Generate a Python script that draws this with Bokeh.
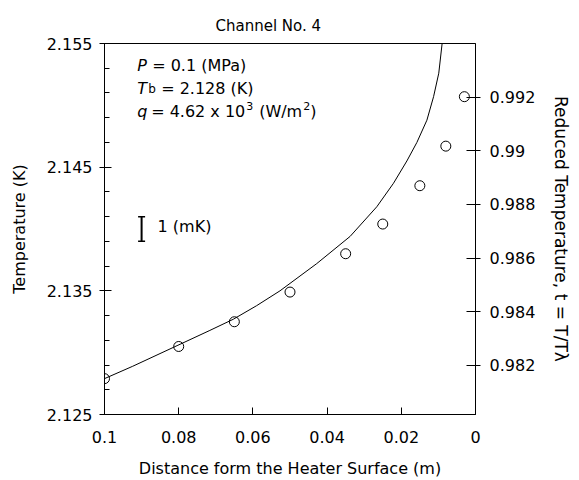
from bokeh.plotting import figure
from bokeh.models import Range1d, LinearAxis, FixedTicker, CustomJSTickFormatter, Label
from bokeh.embed import file_html
from bokeh.resources import INLINE

# ---- data ----
dist_pts = [0.1, 0.08, 0.065, 0.05, 0.035, 0.025, 0.015, 0.008, 0.003]
temp_pts = [2.1279, 2.1305, 2.1325, 2.1349, 2.1380, 2.1404, 2.1435, 2.1467, 2.1507]

curve_dist = [0.1, 0.0924, 0.0802, 0.0716, 0.0653, 0.0590, 0.0527, 0.0428, 0.0338,
              0.0266, 0.0221, 0.0185, 0.0158, 0.0131, 0.0113, 0.0099, 0.0090, 0.0088]
curve_temp = [2.1279, 2.1289, 2.1306, 2.1318, 2.1327, 2.1338, 2.1350, 2.1372, 2.1394,
              2.1418, 2.1437, 2.1455, 2.1470, 2.1488, 2.1507, 2.1526, 2.1550, 2.1557]

T_lambda = 2.168

x_ticks = [0.1, 0.08, 0.06, 0.04, 0.02, 0.0]
x_labels = ["0.1", "0.08", "0.06", "0.04", "0.02", "0"]
y_ticks = [2.125, 2.135, 2.145, 2.155]
y_labels = ["2.125", "2.135", "2.145", "2.155"]
y_minor = [2.127, 2.129, 2.131, 2.133, 2.137, 2.139, 2.141, 2.143,
           2.147, 2.149, 2.151, 2.153]
t_ticks = [0.982, 0.984, 0.986, 0.988, 0.99, 0.992]
t_labels = ["0.982", "0.984", "0.986", "0.988", "0.99", "0.992"]

bar_x = [0.09]
bar_lo = [2.139]
bar_hi = [2.141]
bar_text = "1 (mK)"

title_text = "Channel No. 4"
xlabel = "Distance form the Heater Surface (m)"
ylabel = "Temperature (K)"
tlabel = "Reduced Temperature, t = T/T\u03bb"

FONT = "DejaVu Sans"

code = """
let best = 0; let d = Infinity;
for (let i = 0; i < tks.length; i++) {
  const e = Math.abs(tks[i] - tick);
  if (e < d) { d = e; best = i; }
}
return lbls[best];
"""

def fmt(tks, lbls):
    return CustomJSTickFormatter(args=dict(tks=tks, lbls=lbls), code=code)

p = figure(width=575, height=480,
           x_range=Range1d(0.1, 0.0), y_range=Range1d(2.125, 2.155),
           output_backend="svg", toolbar_location=None,
           min_border_left=104, min_border_right=100,
           min_border_top=43, min_border_bottom=66,
           background_fill_color="white", border_fill_color="white")
p.extra_y_ranges = {"t": Range1d(2.125 / T_lambda, 2.155 / T_lambda)}

p.grid.visible = False
p.outline_line_color = "black"
p.outline_line_width = 1

p.title.text = title_text
p.title.align = "left"
p.title.offset = 111
p.title.text_font = FONT
p.title.text_font_size = "15px"
p.title.text_font_style = "normal"
p.title.text_color = "black"
p.title.standoff = 18

# bottom axis
xa = p.xaxis[0]
xa.ticker = FixedTicker(ticks=x_ticks)
xa.formatter = fmt(x_ticks, x_labels)
xa.axis_label = xlabel
xa.major_tick_in = 7
xa.major_tick_out = 0
xa.minor_tick_line_color = None
xa.major_label_standoff = 16

# left axis
ya = p.yaxis[0]
ya.ticker = FixedTicker(ticks=y_ticks, minor_ticks=y_minor)
ya.formatter = fmt(y_ticks, y_labels)
ya.axis_label = ylabel
ya.major_tick_in = 7
ya.major_tick_out = 5
ya.minor_tick_in = 5
ya.minor_tick_out = 0
ya.major_label_standoff = 7

# right axis
ra = LinearAxis(y_range_name="t")
ra.ticker = FixedTicker(ticks=t_ticks)
ra.formatter = fmt(t_ticks, t_labels)
ra.axis_label = tlabel
ra.major_tick_in = 9
ra.major_tick_out = 5
ra.minor_tick_line_color = None
ra.major_label_standoff = 9
p.add_layout(ra, "right")

for ax in [xa, ya, ra]:
    ax.axis_line_color = "black"
    ax.major_tick_line_color = "black"
    ax.major_label_text_font = FONT
    ax.major_label_text_font_size = "16px"
    ax.major_label_text_color = "black"
    ax.axis_label_text_font = FONT
    ax.axis_label_text_font_size = "16px"
    ax.axis_label_text_font_style = "normal"
    ax.axis_label_text_color = "black"
ya.minor_tick_line_color = "black"
ra.axis_label_text_font_size = "17px"
xa.axis_label_standoff = 13
ya.axis_label_standoff = 15
ra.axis_label_standoff = 13

# theory curve and measured points
p.line(curve_dist, curve_temp, line_color="black", line_width=1)
p.scatter(dist_pts, temp_pts, marker="circle", size=10, fill_color=None,
          line_color="black", line_width=1)

# 1 mK scale bar
p.segment(x0=bar_x, y0=bar_lo, x1=bar_x, y1=bar_hi, line_color="black", line_width=2)
p.scatter(bar_x * 2, bar_lo + bar_hi, marker="dash", size=7, line_color="black", line_width=1.5)
p.add_layout(Label(x=bar_x[0], y=(bar_lo[0] + bar_hi[0]) / 2, x_offset=16, y_offset=3,
                   text=bar_text, text_font=FONT, text_font_size="16px",
                   text_baseline="middle", text_color="black"))

# condition text block
ax0 = 0.0912
lines_y = [2.1532, 2.1514, 2.1495]

def piece(txt, y, dx, dy=0, italic=False, size="16px"):
    p.add_layout(Label(x=ax0, y=y, x_offset=dx, y_offset=dy, text=txt,
                       text_font=FONT, text_font_size=size,
                       text_font_style="italic" if italic else "normal",
                       text_baseline="middle", text_align="left", text_color="black"))

piece("P", lines_y[0], 0, italic=True)
piece("= 0.1 (MPa)", lines_y[0], 15)
piece("T", lines_y[1], 0, italic=True)
piece("b", lines_y[1], 11, dy=-1, size="12px")
piece("= 2.128 (K)", lines_y[1], 24)
piece("q", lines_y[2], 0, italic=True)
piece("= 4.62 x 10", lines_y[2], 14)
piece("3", lines_y[2], 109, dy=6, size="11px")
piece("(W/m", lines_y[2], 122)
piece("2", lines_y[2], 166, dy=6, size="11px")
piece(")", lines_y[2], 173)

open("out.html", "w").write(file_html(p, INLINE))
